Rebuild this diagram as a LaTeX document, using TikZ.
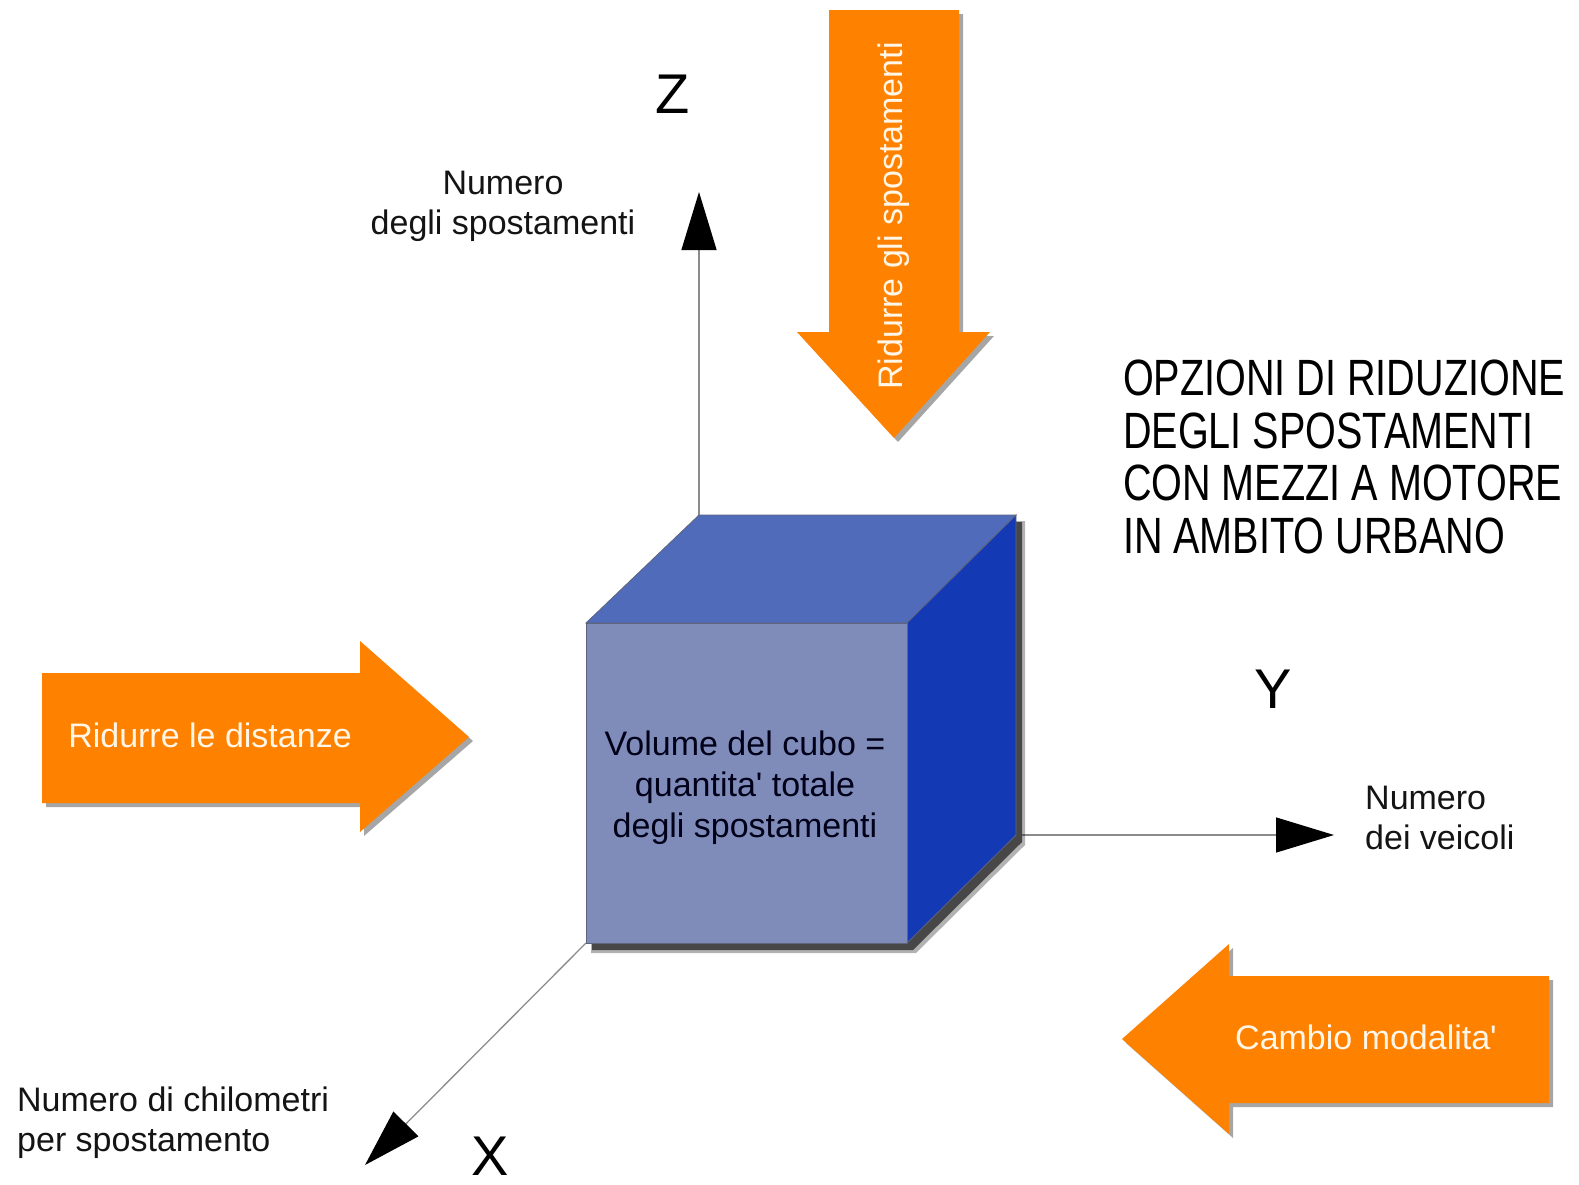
\documentclass[tikz,border=0pt]{standalone}
\usepackage{fontspec}
\setmainfont{Liberation Sans}
\newfontfamily\narrowfont[FakeStretch=0.776]{Liberation Sans}
\usetikzlibrary{arrows.meta}
\definecolor{orangeA}{RGB}{255,129,0}
\definecolor{frontC}{RGB}{127,140,186}
\definecolor{topC}{RGB}{80,107,186}
\definecolor{sideC}{RGB}{20,57,180}
\definecolor{axisC}{RGB}{140,140,140}
\definecolor{txtC}{RGB}{20,20,20}
\definecolor{labelW}{RGB}{255,246,232}
\definecolor{edgeC}{RGB}{95,100,125}
\begin{document}
\begin{tikzpicture}[x=1pt,y=-1pt,
  axis/.style={draw=axisC, line width=1.3pt, -{Triangle[length=58pt,width=35pt,color=black]}},
  face/.style={draw=edgeC, line width=0.8pt},
  orangebox/.style={fill=orangeA, draw=none},
  shadowbox/.style={fill=black, opacity=0.35, draw=none},
  lbl/.style={font=\fontsize{34}{40}\selectfont, text=txtC, inner sep=0pt},
  wlbl/.style={font=\fontsize{34}{40}\selectfont, text=labelW, inner sep=0pt},
  axl/.style={font=\fontsize{56}{60}\selectfont, text=black, inner sep=0pt},
  titlelbl/.style={font=\narrowfont\fontsize{51}{52.7}\selectfont, text=black, inner sep=0pt, align=left}
]
\useasboundingbox (0,0) rectangle (1579,1184);
\fill[white] (0,0) rectangle (1579,1184);

% cube corners
\coordinate (F1) at (586,623);
\coordinate (F2) at (907,623);
\coordinate (F3) at (907,943);
\coordinate (F4) at (586,943);
\coordinate (B1) at (699,515);
\coordinate (B2) at (1016,515);
\coordinate (B3) at (1016,835);
% axis tips
\coordinate (ztip) at (699,192);
\coordinate (ytip) at (1334,835);
\coordinate (xtip) at (365,1165);

% axes
\draw[axis] (B1) -- (ztip);
\draw[axis] (B3) -- (ytip);
\draw[axis] (F4) -- (xtip);

% cube shadow
\fill[black, opacity=0.3] ([shift={(5,6)}]F1) -- ([shift={(5,6)}]B1) -- ([shift={(9,6)}]B2) -- ([shift={(9,10)}]B3) -- ([shift={(9,10)}]F3) -- ([shift={(5,10)}]F4) -- cycle;
\fill[black!72] ([shift={(6,7)}]F1) -- ([shift={(6,7)}]B1) -- ([shift={(6,7)}]B2) -- ([shift={(6,7)}]B3) -- ([shift={(6,7)}]F3) -- ([shift={(6,7)}]F4) -- cycle;

% cube faces
\filldraw[face, fill=topC] (F1) -- (B1) -- (B2) -- (F2) -- cycle;
\filldraw[face, fill=sideC] (F2) -- (B2) -- (B3) -- (F3) -- cycle;
\filldraw[face, fill=frontC] (F1) -- (F2) -- (F3) -- (F4) -- cycle;
\node[lbl, align=center, text=black!90!blue] (vol) at (745,788) {Volume del cubo =\\[1pt]quantita\textquotesingle{} totale\\[1pt]degli spostamenti};

% orange arrows with shadows
\fill[shadowbox] (833,14) -- (963,14) -- (963,336) -- (994,336) -- (898,442) -- (801,336) -- (833,336) -- cycle;
\fill[orangebox] (829,10) -- (959,10) -- (959,332) -- (990,332) -- (894,438) -- (797,332) -- (829,332) -- cycle;
\node[wlbl, rotate=90] (rgs) at (894,216) {Ridurre gli spostamenti};

\fill[shadowbox] (46,677) -- (364,677) -- (364,645) -- (473,741) -- (364,836) -- (364,807) -- (46,807) -- cycle;
\fill[orangebox] (42,673) -- (360,673) -- (360,641) -- (469,737) -- (360,832) -- (360,803) -- (42,803) -- cycle;
\node[wlbl] (rld) at (210,735) {Ridurre le distanze};

\fill[shadowbox] (1553,980) -- (1233,980) -- (1233,948) -- (1126,1043) -- (1233,1138) -- (1233,1107) -- (1553,1107) -- cycle;
\fill[orangebox] (1549,976) -- (1229,976) -- (1229,944) -- (1122,1039) -- (1229,1134) -- (1229,1103) -- (1549,1103) -- cycle;
\node[wlbl] (cm) at (1366,1037) {Cambio modalita\textquotesingle};

% axis labels
\node[lbl, align=center] (zdesc) at (503,206) {Numero\\degli spostamenti};
\node[lbl, align=left, anchor=west] (xdesc) at (17,1123) {Numero di chilometri\\per spostamento};
\node[lbl, align=left, anchor=west] (ydesc) at (1365,818) {Numero\\dei veicoli};
\node[axl] (Z) at (673,94) {Z};
\node[axl] (Y) at (1273,689) {Y};
\node[axl] (X) at (490,1156) {X};

% title
\node[titlelbl] (title) at (1344,457) {OPZIONI DI RIDUZIONE\\DEGLI SPOSTAMENTI\\CON MEZZI A MOTORE\\IN AMBITO URBANO};
\end{tikzpicture}
\end{document}
